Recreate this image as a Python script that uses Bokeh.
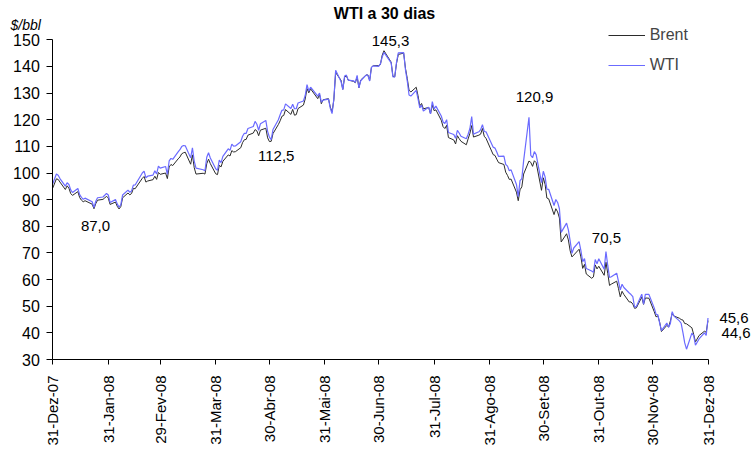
import pandas as pd
from bokeh.plotting import figure
from bokeh.models import (Range1d, FixedTicker, Legend, LegendItem, Label,
                          LabelSet, ColumnDataSource)
from bokeh.core.properties import value
from bokeh.embed import file_html
from bokeh.resources import INLINE

# ---------------- data ----------------
days_dec07 = [31]
wti_dec07 = [95.98]
brent_dec07 = [94.4]

days_jan = [2, 3, 4, 7, 8, 9, 10, 11, 14, 15, 16, 17, 18, 22, 23, 24, 25, 28, 29, 30, 31]
wti_jan = [99.62, 99.18, 97.91, 95.09, 96.33, 95.67, 93.67, 92.69, 94.20, 91.90, 90.84,
           90.13, 90.57, 89.21, 86.99, 89.41, 90.71, 90.99, 91.64, 92.33, 91.75]
brent_jan = [97.8, 97.6, 96.6, 93.8, 95.2, 94.3, 92.3, 91.6, 93.0, 90.8, 89.8,
             89.2, 89.6, 88.3, 86.6, 88.5, 89.8, 90.1, 90.6, 91.3, 90.6]

days_feb = [1, 4, 5, 6, 7, 8, 11, 12, 13, 14, 15, 19, 20, 21, 22, 25, 26, 27, 28, 29]
wti_feb = [88.96, 90.02, 88.41, 87.14, 88.11, 91.77, 93.59, 92.78, 93.27, 95.46,
           95.50, 100.01, 100.74, 98.23, 98.81, 99.23, 100.88, 99.64, 102.59, 101.84]
brent_feb = [88.2, 89.1, 87.5, 86.5, 87.4, 90.7, 92.5, 91.8, 92.3, 94.2,
             94.1, 98.0, 98.7, 96.6, 97.0, 97.5, 98.8, 97.6, 100.2, 99.5]

days_mar = [3, 4, 5, 6, 7, 10, 11, 12, 13, 14, 17, 18, 19, 20, 24, 25, 26, 27, 28, 31]
wti_mar = [102.45, 99.52, 104.52, 105.47, 105.15, 107.90, 108.75, 109.92, 110.33, 110.21,
           105.68, 109.42, 104.48, 101.84, 101.22, 100.86, 105.90, 107.58, 105.62, 101.58]
brent_mar = [100.0, 97.9, 102.3, 103.2, 102.8, 105.3, 106.0, 107.2, 107.6, 107.8,
             103.3, 106.8, 102.0, 99.6, 99.9, 99.6, 103.5, 105.2, 103.5, 99.7]

days_apr = [1, 2, 3, 4, 7, 8, 9, 10, 11, 14, 15, 16, 17, 18, 21, 22, 23, 24, 25, 28, 29, 30]
wti_apr = [100.98, 104.83, 103.92, 106.23, 109.09, 108.50, 110.87, 110.11, 110.14, 111.76,
           113.79, 114.93, 114.86, 116.69, 117.48, 119.37, 118.30, 116.06, 118.52, 119.75,
           115.63, 113.46]
brent_apr = [99.4, 102.9, 102.3, 104.4, 106.8, 106.4, 108.4, 107.9, 108.0, 109.5,
             111.4, 112.5, 112.6, 114.2, 115.0, 116.3, 115.8, 114.0, 116.1, 116.8,
             113.2, 111.8]

days_may = [1, 2, 5, 6, 7, 8, 9, 12, 13, 14, 15, 16, 19, 20, 21, 22, 23, 27, 28, 29, 30]
wti_may = [112.52, 116.32, 119.97, 121.84, 123.53, 123.69, 125.96, 124.23, 125.80, 124.12,
           124.12, 126.29, 127.05, 129.07, 133.17, 130.81, 132.19, 128.85, 130.03, 126.62,
           127.35]
brent_may = [111.9, 114.8, 118.2, 119.6, 121.3, 121.6, 123.8, 122.0, 123.9, 121.7,
             121.9, 124.2, 125.5, 127.8, 131.7, 130.1, 131.6, 127.9, 129.5, 126.0,
             127.5]

days_jun = [2, 3, 4, 5, 6, 9, 10, 11, 12, 13, 16, 17, 18, 19, 20, 23, 24, 25, 26, 27, 30]
wti_jun = [127.76, 124.31, 122.30, 127.79, 138.54, 134.35, 131.31, 136.38, 136.74, 134.86,
           134.61, 134.01, 136.68, 131.93, 134.62, 136.74, 136.76, 134.55, 139.64, 140.21,
           140.00]
brent_jun = [127.9, 124.8, 122.9, 127.5, 137.7, 134.8, 131.4, 135.9, 136.5, 134.9,
             134.4, 133.9, 136.1, 132.0, 134.9, 136.8, 136.8, 134.8, 139.7, 140.3,
             140.3]

days_jul = [1, 2, 3, 7, 8, 9, 10, 11, 14, 15, 16, 17, 18, 21, 22, 23, 24, 25, 28, 29, 30, 31]
wti_jul = [140.97, 143.57, 145.29, 141.37, 136.04, 136.05, 141.65, 145.08, 145.18, 138.74,
           134.60, 129.29, 128.88, 131.04, 127.95, 124.44, 125.49, 123.26, 124.73, 122.19,
           126.77, 124.08]
brent_jul = [140.7, 144.2, 145.9, 141.6, 136.3, 136.1, 141.1, 144.5, 145.0, 139.3,
             135.5, 131.1, 130.4, 132.2, 129.1, 125.2, 126.1, 124.1, 124.6, 122.2,
             125.5, 123.4]

days_aug = [1, 4, 5, 6, 7, 8, 11, 12, 13, 14, 15, 18, 19, 20, 21, 22, 25, 26, 27, 28, 29]
wti_aug = [125.10, 121.41, 119.17, 118.58, 120.02, 115.20, 114.45, 113.01, 116.00, 115.01,
           113.77, 112.87, 114.53, 116.69, 121.18, 114.59, 115.46, 116.27, 118.15, 115.59,
           115.46]
brent_aug = [123.7, 119.8, 117.4, 116.7, 117.9, 113.3, 112.4, 110.9, 114.0, 112.9,
             111.9, 110.6, 112.8, 114.9, 117.8, 113.5, 114.2, 114.6, 116.7, 113.8,
             113.0]

days_sep = [2, 3, 4, 5, 8, 9, 10, 11, 12, 15, 16, 17, 18, 19, 22, 23, 24, 25, 26, 29, 30]
wti_sep = [109.71, 109.35, 107.89, 106.23, 106.34, 103.26, 102.58, 100.87, 101.18, 95.71,
           91.15, 97.16, 97.88, 104.55, 120.92, 106.61, 105.73, 108.02, 106.89, 96.37,
           100.64]
brent_sep = [106.9, 106.6, 105.2, 103.9, 103.2, 100.3, 99.1, 97.6, 97.7, 92.8,
             89.6, 93.7, 94.8, 99.6, 104.5, 104.0, 102.5, 104.6, 103.9, 93.5,
             98.2]

days_oct = [1, 2, 3, 6, 7, 8, 9, 10, 13, 14, 15, 16, 17, 20, 21, 22, 23, 24, 27, 28, 29, 30, 31]
wti_oct = [98.53, 93.97, 93.88, 87.81, 90.06, 88.95, 86.59, 77.70, 81.19, 78.63,
           74.54, 69.85, 71.85, 74.25, 70.89, 66.75, 67.84, 64.15, 63.22, 62.73,
           67.50, 65.96, 67.81]
brent_oct = [95.7, 90.6, 90.3, 84.4, 86.6, 85.4, 83.1, 74.1, 77.2, 74.9,
             70.8, 68.5, 69.2, 71.4, 68.5, 64.2, 65.7, 62.1, 60.5, 61.0,
             65.5, 64.0, 65.0]

days_nov = [3, 4, 5, 6, 7, 10, 11, 12, 13, 14, 17, 18, 19, 20, 21, 24, 25, 26, 28]
wti_nov = [63.91, 70.53, 65.30, 60.77, 61.04, 62.41, 59.33, 56.16, 58.24, 57.04,
           54.95, 54.39, 53.62, 49.62, 49.93, 54.50, 50.77, 54.44, 54.43]
brent_nov = [61.6, 66.5, 62.3, 57.8, 58.3, 59.4, 56.6, 53.5, 55.6, 54.4,
             51.6, 51.6, 50.8, 49.2, 49.4, 53.4, 50.7, 53.1, 53.0]

days_dec = [1, 2, 3, 4, 5, 8, 9, 10, 11, 12, 15, 16, 17, 18, 19, 22, 23, 24, 26, 29, 30, 31]
wti_dec = [49.28, 46.96, 46.79, 43.67, 40.81, 43.71, 42.07, 43.52, 47.98, 46.28,
           44.51, 43.60, 40.06, 36.22, 33.87, 39.91, 38.98, 35.35, 37.71, 40.02,
           39.03, 45.6]
brent_dec = [47.9, 46.0, 46.4, 44.0, 40.5, 42.8, 42.2, 44.5, 47.3, 46.3,
             45.5, 45.0, 44.8, 43.5, 43.4, 41.9, 39.4, 36.6, 39.0, 40.6,
             40.2, 44.6]

months = ["2007-12", "2008-01", "2008-02", "2008-03", "2008-04", "2008-05", "2008-06",
          "2008-07", "2008-08", "2008-09", "2008-10", "2008-11", "2008-12"]
month_days = [days_dec07, days_jan, days_feb, days_mar, days_apr, days_may, days_jun,
              days_jul, days_aug, days_sep, days_oct, days_nov, days_dec]
month_wti = [wti_dec07, wti_jan, wti_feb, wti_mar, wti_apr, wti_may, wti_jun,
             wti_jul, wti_aug, wti_sep, wti_oct, wti_nov, wti_dec]
month_brent = [brent_dec07, brent_jan, brent_feb, brent_mar, brent_apr, brent_may, brent_jun,
               brent_jul, brent_aug, brent_sep, brent_oct, brent_nov, brent_dec]

tick_dates = ["2007-12-31", "2008-01-31", "2008-02-29", "2008-03-31", "2008-04-30",
              "2008-05-31", "2008-06-30", "2008-07-31", "2008-08-31", "2008-09-30",
              "2008-10-31", "2008-11-30", "2008-12-31"]
tick_labels = ["31-Dez-07", "31-Jan-08", "29-Fev-08", "31-Mar-08", "30-Abr-08",
               "31-Mai-08", "30-Jun-08", "31-Jul-08", "31-Ago-08", "30-Set-08",
               "31-Out-08", "30-Nov-08", "31-Dez-08"]

y_ticks = [30, 40, 50, 60, 70, 80, 90, 100, 110, 120, 130, 140, 150]

annot_series = ["WTI", "WTI", "WTI", "WTI", "WTI", "WTI", "Brent"]
annot_dates = ["2008-01-23", "2008-05-01", "2008-07-03", "2008-09-22",
               "2008-11-04", "2008-12-31", "2008-12-31"]
# label offsets in screen px (right, up)
annot_dx = [1.5, 5, 6.5, 5.5, 0.5, 26, 28]
annot_dy = [-18, -16, 11.5, 20.5, 13.5, 0, -12]

# ---------------- layout (pixels) ----------------
W, H = 752, 451
AX_LEFT, AX_RIGHT, AX_TOP, AX_BOTTOM = 52.3, 707.5, 39.3, 359.0

# ---------------- build ----------------
origin = pd.Timestamp("2007-12-31")
dates, wti, brent = [], [], []
for m, d, w, b in zip(months, month_days, month_wti, month_brent):
    assert len(d) == len(w) == len(b), m
    for dd, ww, bb in zip(d, w, b):
        dates.append(pd.Timestamp(f"{m}-{dd:02d}"))
        wti.append(ww)
        brent.append(bb)
xday = [(t - origin).days for t in dates]
src = ColumnDataSource(dict(x=xday, wti=wti, brent=brent))

tick_x = [(pd.Timestamp(t) - origin).days for t in tick_dates]
x0, x1 = tick_x[0], tick_x[-1]
y0, y1 = y_ticks[0], y_ticks[-1]
kx = (AX_RIGHT - AX_LEFT) / (x1 - x0)
ky = (AX_BOTTOM - AX_TOP) / (y1 - y0)
xr = Range1d(x0 - AX_LEFT / kx, x1 + (W - AX_RIGHT) / kx)
yr = Range1d(y0 - (H - AX_BOTTOM) / ky, y1 + AX_TOP / ky)

FONT = "Liberation Sans"
p = figure(width=W, height=H, output_backend="svg", toolbar_location=None,
           x_range=xr, y_range=yr, min_border=0,
           min_border_left=0, min_border_right=0, min_border_top=0, min_border_bottom=0)
p.xgrid.visible = False
p.ygrid.visible = False
p.outline_line_color = None
p.background_fill_color = "white"
p.border_fill_color = "white"

r_b = p.line("x", "brent", source=src, line_color="#2b2b2b", line_width=1)
r_w = p.line("x", "wti", source=src, line_color="#6b6bff", line_width=1.2)

# axes, drawn at the data origin inside the frame
p.xaxis.fixed_location = y0
p.xaxis.bounds = (x0, x1)
p.yaxis.fixed_location = x0
p.yaxis.bounds = (y0, y1)
p.xaxis.ticker = FixedTicker(ticks=tick_x)
p.xaxis.major_label_overrides = {int(k): v for k, v in zip(tick_x, tick_labels)}
p.xaxis.major_label_orientation = 1.5707963
p.yaxis.ticker = FixedTicker(ticks=y_ticks)
for ax in (p.xaxis[0], p.yaxis[0]):
    ax.axis_line_color = "black"
    ax.major_tick_line_color = "black"
    ax.minor_tick_line_color = None
    ax.major_tick_in = 0
    ax.major_label_text_font = FONT
    ax.major_label_text_color = "black"
p.xaxis.major_tick_out = 5
p.xaxis.major_label_standoff = 11
p.xaxis.major_label_text_font_size = "15px"
p.yaxis.major_tick_out = 6
p.yaxis.major_label_standoff = 7
p.yaxis.major_label_text_font_size = "16px"

# legend (location = bottom-left of legend, from bottom-left of frame)
legend = Legend(items=[LegendItem(label="Brent", renderers=[r_b]),
                       LegendItem(label="WTI", renderers=[r_w])],
                location=(607.7, H - 75.3), glyph_width=37, glyph_height=20,
                label_height=20, spacing=10, padding=0, margin=0, label_standoff=5,
                label_text_font=FONT, label_text_font_size="16px",
                border_line_color=None, background_fill_alpha=0)
p.add_layout(legend)

# value annotations, anchored on the series points
series_map = {"WTI": dict(zip(dates, wti)), "Brent": dict(zip(dates, brent))}
ax_x, ax_y, ax_t = [], [], []
for s, d in zip(annot_series, annot_dates):
    t = pd.Timestamp(d)
    v = series_map[s][t]
    ax_x.append((t - origin).days)
    ax_y.append(v)
    ax_t.append(f"{v:.1f}".replace(".", ","))
asrc = ColumnDataSource(dict(x=ax_x, y=ax_y, t=ax_t, dx=annot_dx, dy=annot_dy))
p.add_layout(LabelSet(x="x", y="y", text="t", source=asrc, x_offset="dx", y_offset="dy",
                      text_align="center", text_baseline="middle",
                      text_font=value(FONT), text_font_size=value("15px"),
                      text_color="black"))

# unit and title
p.add_layout(Label(x=10, y=H - 24, x_units="screen", y_units="screen", text="$/bbl",
                   text_font=FONT, text_font_size="14px", text_font_style="italic",
                   text_baseline="alphabetic", text_color="black"))
p.add_layout(Label(x=384, y=H - 13, x_units="screen", y_units="screen", text="WTI a 30 dias",
                   text_font=FONT, text_font_size="16px", text_font_style="bold",
                   text_align="center", text_baseline="alphabetic", text_color="black"))

open("out.html", "w").write(file_html(p, INLINE))
